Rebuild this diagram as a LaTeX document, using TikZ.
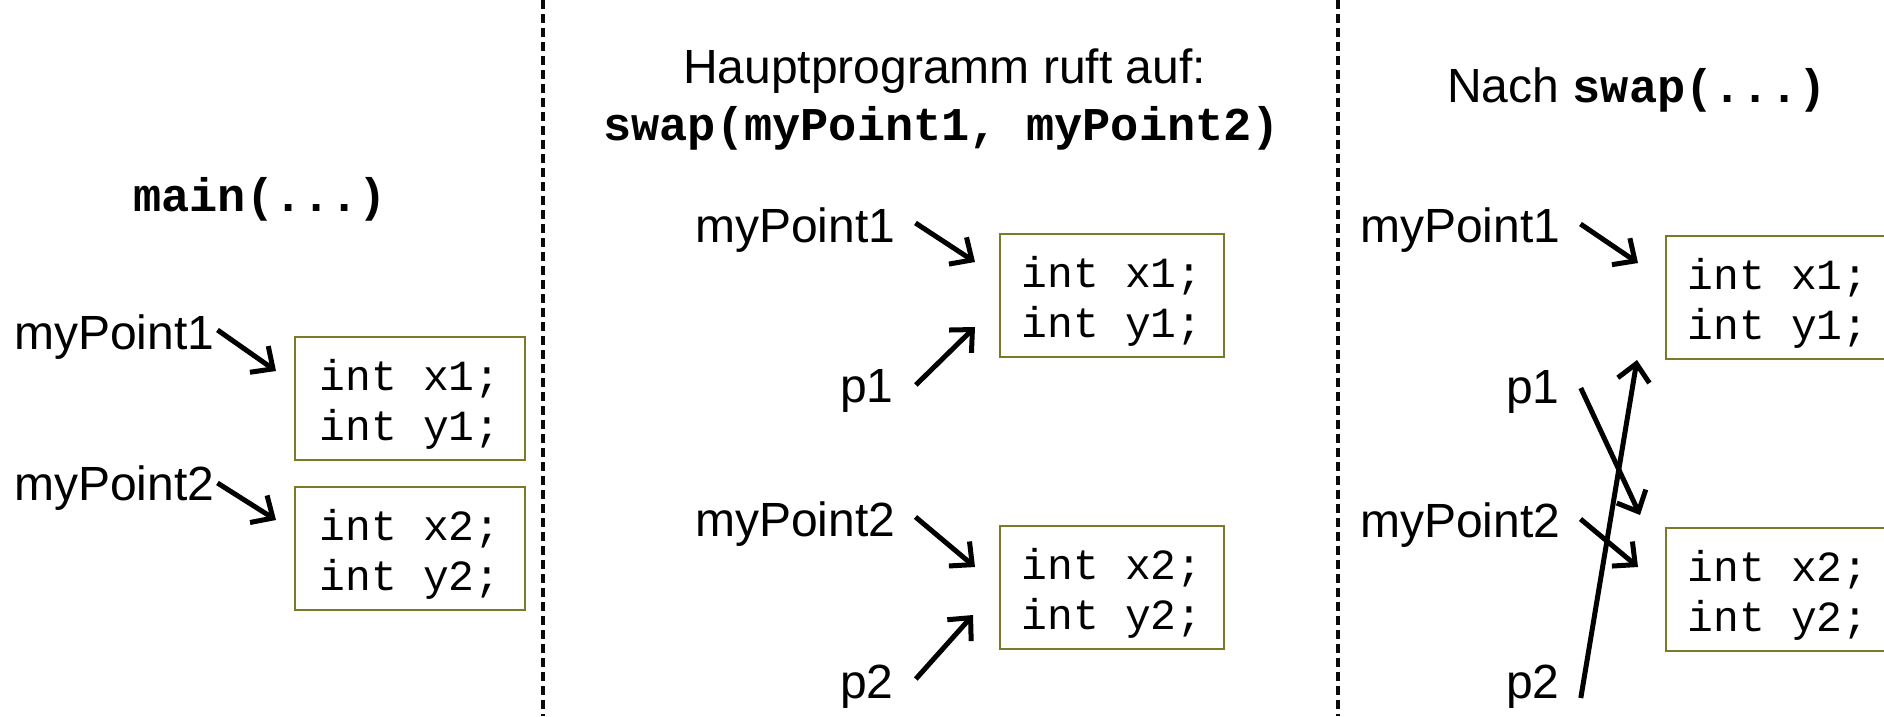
\documentclass[tikz,border=0pt]{standalone}
\usepackage{fontspec}
\setmainfont{Liberation Sans}
\setmonofont{Liberation Mono}
\usetikzlibrary{arrows.meta}
\definecolor{boxolive}{RGB}{122,122,40}
\definecolor{sepgray}{RGB}{10,10,10}
\newcommand{\toprule}{\rule{0pt}{42pt}}
\begin{document}
\begin{tikzpicture}[x=1pt,y=-1pt,
  lbl/.style={font=\fontsize{48}{56}\selectfont, inner sep=0pt, anchor=base west},
  head/.style={inner sep=0pt, anchor=base west},
  headcode/.style={font=\ttfamily\bfseries\fontsize{47}{56}\selectfont},
  membox/.style={draw=boxolive, line width=2.4pt, minimum width=224pt, minimum height=123pt,
    inner sep=0pt, anchor=north west, align=left, font=\ttfamily\fontsize{43}{50}\selectfont},
  ptr/.style={line width=5pt, -{Straight Barb[length=17pt,width=32pt]}},
  sepline/.style={line width=3.2pt, dash pattern=on 9pt off 5pt, draw=sepgray}]
\useasboundingbox (0,0) rectangle (1884,716);
\clip (0,0) rectangle (1884,716);

% separators
\draw[sepline] (543,0) -- (543,716);
\draw[sepline] (1338,0) -- (1338,716);

% headings
\node[head, headcode] (tmain) at (133,211) {main(...)};
\node[head, font=\fontsize{48}{56}\selectfont] (thaupt) at (683,83) {Hauptprogramm ruft auf:};
\node[head, headcode] (tswap) at (603,140) {swap(myPoint1, myPoint2)};
\node[head, font=\fontsize{48}{56}\selectfont] (tnach) at (1447,102) {Nach {\ttfamily\bfseries\fontsize{47}{56}\selectfont swap(...)}};

% left panel
\node[lbl] (lA1) at (14,349) {myPoint1};
\node[lbl] (lA2) at (14,500) {myPoint2};
\node[membox, minimum width=230pt] (bA1) at (294,336) {\toprule int x1;\\int y1;};
\node[membox, minimum width=230pt] (bA2) at (294,486) {\toprule int x2;\\int y2;};
\draw[ptr] ([shift={(3,-19)}]lA1.base east) -- ([shift={(-18,35)}]bA1.north west);
\draw[ptr] ([shift={(3,-17)}]lA2.base east) -- ([shift={(-18,34)}]bA2.north west);

% middle panel
\node[lbl] (mB1) at (695,242) {myPoint1};
\node[lbl] (pB1) at (840,402) {p1};
\node[lbl] (mB2) at (695,536) {myPoint2};
\node[lbl] (pB2) at (840,698) {p2};
\node[membox] (bB1) at (999,233) {\toprule int x1;\\int y1;};
\node[membox] (bB2) at (999,525) {\toprule int x2;\\int y2;};
\draw[ptr] ([shift={(20,-19)}]mB1.base east) -- ([shift={(-24,29)}]bB1.north west);
\draw[ptr] ([shift={(22,-17)}]pB1.base east) -- ([shift={(-24,94)}]bB1.north west);
\draw[ptr] ([shift={(20,-19)}]mB2.base east) -- ([shift={(-24,42)}]bB2.north west);
\draw[ptr] ([shift={(22,-19)}]pB2.base east) -- ([shift={(-26,90)}]bB2.north west);

% right panel
\node[lbl] (mC1) at (1360,242) {myPoint1};
\node[lbl] (pC1) at (1506,403) {p1};
\node[lbl] (mC2) at (1360,537) {myPoint2};
\node[lbl] (pC2) at (1506,698) {p2};
\node[membox] (bC1) at (1665,235) {\toprule int x1;\\int y1;};
\node[membox] (bC2) at (1665,527) {\toprule int x2;\\int y2;};
\draw[ptr] ([shift={(20,-18)}]mC1.base east) -- ([shift={(-27,28)}]bC1.north west);
\draw[ptr] ([shift={(21,-15)}]pC1.base east) -- ([shift={(-25,-12)}]bC2.north west);
\draw[ptr] ([shift={(20,-18)}]mC2.base east) -- ([shift={(-27,40)}]bC2.north west);
\draw[ptr] ([shift={(21,0)}]pC2.base east) -- ([shift={(-28,125)}]bC1.north west);
\end{tikzpicture}
\end{document}
